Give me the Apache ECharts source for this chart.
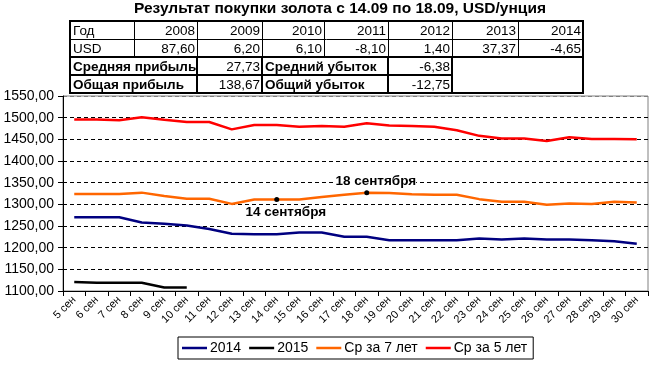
<!DOCTYPE html>
<html><head><meta charset="utf-8">
<script src="https://cdn.jsdelivr.net/npm/echarts@6/dist/echarts.min.js"></script>
<style>html,body{margin:0;padding:0;background:#fff}#c{width:650px;height:365px}</style>
</head><body><div id="c"></div>
<script>
// ---- data ----
const categories = ['5 сен','6 сен','7 сен','8 сен','9 сен','10 сен','11 сен','12 сен','13 сен','14 сен','15 сен','16 сен','17 сен','18 сен','19 сен','20 сен','21 сен','22 сен','23 сен','24 сен','25 сен','26 сен','27 сен','28 сен','29 сен','30 сен'];
const s2014 = [1270,1270,1270,1258,1255,1251,1243,1232,1231,1231,1235,1235,1225,1225,1217,1217,1217,1217,1221,1219,1221,1219,1219,1217,1215,1209];
const s2015 = [1121,1119,1119,1119,1108,1108];
const avg7 = [1324,1324,1324,1327,1319,1313,1313,1301,1311,1311,1311,1317,1322,1327,1326,1323,1322,1322,1312,1306,1306,1299,1302,1301,1306,1304];
const avg5 = [1496,1496,1494,1501,1495,1490,1490,1473,1483,1483,1479,1481,1479,1487,1482,1481,1479,1471,1458,1452,1452,1446,1455,1451,1451,1450];
const seriesNames = ['2014','2015','Ср за 7 лет','Ср за 5 лет'];
const markIdx = [9, 13];
const markLabels = ['14 сентября', '18 сентября'];
// table
const tableYears = ['2008','2009','2010','2011','2012','2013','2014'];
const tableUsd = ['87,60','6,20','6,10','-8,10','1,40','37,37','-4,65'];
const summaryLabels = ['Средняя прибыль','Общая прибыль','Средний убыток','Общий убыток'];
const summaryValues = ['27,73','138,67','-6,38','-12,75'];
const titleText = 'Результат покупки золота с 14.09 по 18.09, USD/унция';

const FF = 'Arial, "Liberation Sans", sans-serif';
const colX = [70,134,197,262,324,388,452,518,583];
const rowY = [21,39,57,75,93];
const g = [];
function txt(x, y, s, align, bold){
  g.push({type:'text', x:x, y:y, style:{text:s, fill:'#000', font:(bold?'bold ':'')+'13.5px '+FF, textAlign:align, textVerticalAlign:'middle'}, z:10});
}
function ln(x1,y1,x2,y2,w){
  g.push({type:'line', shape:{x1:x1,y1:y1,x2:x2,y2:y2}, style:{stroke:'#000', lineWidth:w}, z:10});
}
// table text
const rc = i => (rowY[i]+rowY[i+1])/2 + 1;
txt(colX[0]+3, rc(0), 'Год', 'left');
txt(colX[0]+3, rc(1), 'USD', 'left');
tableYears.forEach((y,i)=>txt(colX[i+2]-2, rc(0), y, 'right'));
tableUsd.forEach((v,i)=>txt(colX[i+2]-2, rc(1), v, 'right'));
txt(colX[0]+3, rc(2), summaryLabels[0], 'left', true);
txt(colX[0]+3, rc(3), summaryLabels[1], 'left', true);
txt(colX[3]-2, rc(2), summaryValues[0], 'right');
txt(colX[3]-2, rc(3), summaryValues[1], 'right');
txt(colX[3]+3, rc(2), summaryLabels[2], 'left', true);
txt(colX[3]+3, rc(3), summaryLabels[3], 'left', true);
txt(colX[6]-2, rc(2), summaryValues[2], 'right');
txt(colX[6]-2, rc(3), summaryValues[3], 'right');
// table lines
ln(colX[0], rowY[1]+0.5, colX[8], rowY[1]+0.5, 1);
ln(colX[0], rowY[2], colX[8], rowY[2], 2);
ln(colX[0], rowY[3], colX[6], rowY[3], 2);
for (let i=1;i<8;i++) ln(colX[i]+0.5, rowY[0], colX[i]+0.5, rowY[2], 1);
[2,3,5,6].forEach(i=>ln(colX[i], rowY[2], colX[i], rowY[4], 2));
g.push({type:'rect', shape:{x:colX[0], y:rowY[0], width:colX[8]-colX[0], height:rowY[4]-rowY[0]}, style:{fill:null, stroke:'#000', lineWidth:2}, z:10});

const orangeData = avg7.map((v,i)=>{
  const k = markIdx.indexOf(i);
  if (k<0) return v;
  return {value:v, symbol:'circle', symbolSize:5, itemStyle:{color:'#000'},
    label:{show:true, formatter:markLabels[k], position:k===0?'bottom':'top', distance:k===0?3:2, offset:[9,0],
      fontFamily:FF, fontSize:13.5, fontWeight:'bold', color:'#000', backgroundColor:'#fff', padding:[0,0]}};
});

const gridColors = ['#000','#000','#000','#000','#000','#000','#000','#000','#000','#808080'];
const chart = echarts.init(document.getElementById('c'), null, {renderer:'canvas'});
chart.setOption({
  animation:false,
  backgroundColor:'#fff',
  title:{text:titleText, left:340, textAlign:'center', top:1, padding:0, textStyle:{fontFamily:FF, fontSize:15.5, fontWeight:'bold', color:'#000'}},
  grid:{left:63, right:2, top:96, bottom:74, show:true, borderColor:'#808080', borderWidth:1, backgroundColor:'transparent'},
  legend:{data:seriesNames, left:178, top:337, padding:[4,6,4,4], itemGap:8, itemWidth:25, itemHeight:2.5, icon:'rect',
    borderColor:'#000', borderWidth:1, textStyle:{fontFamily:FF, fontSize:14, color:'#000', padding:[0,0,0,-2]}},
  xAxis:{type:'category', data:categories, boundaryGap:true,
    axisLine:{lineStyle:{color:'#000', width:1}}, axisTick:{show:true, length:5, lineStyle:{color:'#000'}},
    axisLabel:{interval:0, rotate:45, fontFamily:FF, fontSize:11, color:'#000', margin:7}, splitLine:{show:false}},
  yAxis:{type:'value', min:1100, max:1550, interval:50,
    axisLine:{show:true, lineStyle:{color:'#000', width:1}}, axisTick:{show:true, length:5, lineStyle:{color:'#000'}},
    axisLabel:{fontFamily:FF, fontSize:14, color:'#000', margin:9, formatter:v=>v.toFixed(2).replace('.',',')},
    splitLine:{show:true, lineStyle:{color:gridColors, type:[4,3], width:1}}},
  series:[
    {name:seriesNames[0], type:'line', data:s2014, symbol:'none', lineStyle:{color:'#000080', width:2.5}, itemStyle:{color:'#000080'}, z:3},
    {name:seriesNames[1], type:'line', data:s2015, symbol:'none', lineStyle:{color:'#000000', width:2.5}, itemStyle:{color:'#000000'}, z:3},
    {name:seriesNames[2], type:'line', data:orangeData, symbol:'none', showSymbol:true, lineStyle:{color:'#FF6600', width:2.5}, itemStyle:{color:'#FF6600'}, z:4},
    {name:seriesNames[3], type:'line', data:avg5, symbol:'none', lineStyle:{color:'#FF0000', width:2.5}, itemStyle:{color:'#FF0000'}, z:3}
  ],
  graphic:g
});
</script></body></html>
